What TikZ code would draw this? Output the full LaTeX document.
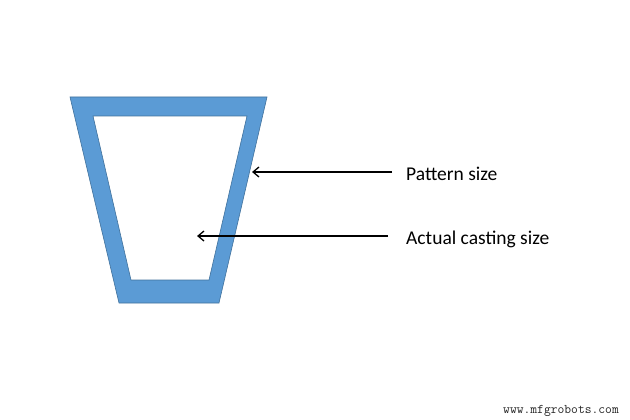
\documentclass[tikz,border=0pt]{standalone}
\usepackage{fontspec}
\setmainfont{Carlito}
\usetikzlibrary{arrows.meta}
\definecolor{patblue}{HTML}{5B9BD5}
\definecolor{patedge}{HTML}{41719C}
\begin{document}
\begin{tikzpicture}[x=1pt,y=-1pt,
	callout/.style={draw=black, line width=1.3pt, -{Straight Barb[length=6pt,width=10pt]}},
	labeltext/.style={anchor=west, font=\fontsize{19.5}{23}\selectfont, inner sep=0pt}]
		\useasboundingbox (0,0) rectangle (630,420);
		% \draw [help lines, step=10] (0,0) grid (630,420);

		% pattern with the casting cut out
		\filldraw [fill=patblue, draw=patedge, line width=0.6pt, even odd rule]
			(70,97) -- (267,97) -- (219,303) -- (119,303) -- cycle
			(93,116) -- (247,116) -- (209,280) -- (131,280) -- cycle;

		\coordinate (wall) at (252,172);
		\coordinate (inside) at (197,236);

		\node (pattern) [labeltext] at (406,174) {Pattern size};
		\node (casting) [labeltext] at (406,239) {Actual casting size};

		\draw [callout, shorten <=14pt] (pattern.west |- wall) -- (wall);
		\draw [callout, shorten <=18pt] (casting.west |- inside) -- (inside);

		\node (site) [anchor=east, font=\ttfamily\fontsize{13.2}{15}\selectfont, text=black!85, inner sep=0pt] at (619,411) {www.mfgrobots.com};
	\end{tikzpicture}
\end{document}
